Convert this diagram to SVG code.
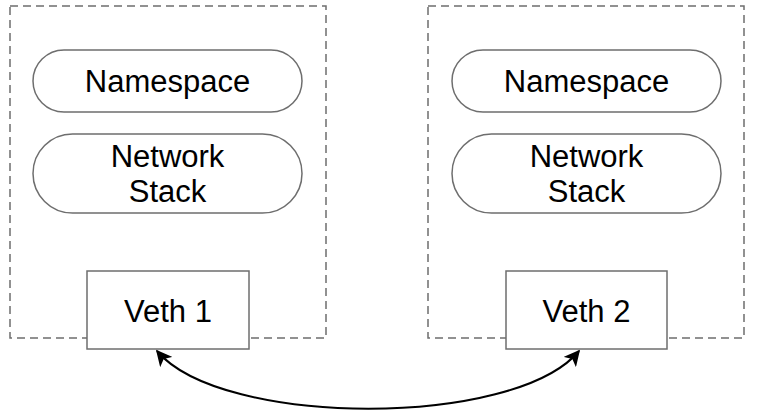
<svg xmlns="http://www.w3.org/2000/svg" width="757" height="418" viewBox="0 0 757 418">
<style>
.ns{fill:none;stroke:#6e6e6e;stroke-width:1.5;stroke-dasharray:8 5}
.pill{fill:#fff;stroke:#6e6e6e;stroke-width:1.5}
.veth{fill:#fff;stroke:#6e6e6e;stroke-width:1.5}
text{font-family:"Liberation Sans",Arial,Helvetica,sans-serif;font-size:31px;fill:#000;text-anchor:middle}
.conn{fill:none;stroke:#000;stroke-width:2}
</style>
<defs>
<marker id="ah" viewBox="0 0 10 10" refX="9" refY="5" markerWidth="16" markerHeight="16" markerUnits="userSpaceOnUse" orient="auto-start-reverse">
<path d="M0,0 L10,5 L0,10 L2.5,5 z" fill="#000"/>
</marker>
</defs>
<g id="ns1">
<rect class="ns" x="10" y="6" width="316" height="332"/>
</g>
<g id="namespace1">
<rect class="pill" x="33" y="50" width="269" height="62" rx="31"/>
<text x="167.5" y="92">Namespace</text>
</g>
<g id="stack1">
<rect class="pill" x="33" y="134" width="269" height="79" rx="39.5"/>
<text x="167.5" y="167">Network</text>
<text x="167.5" y="202">Stack</text>
</g>
<g id="veth1">
<rect class="veth" x="87" y="271" width="162" height="78"/>
<text x="168" y="322">Veth 1</text>
</g>
<g id="ns2">
<rect class="ns" x="428" y="6" width="316" height="332"/>
</g>
<g id="namespace2">
<rect class="pill" x="452" y="50" width="269" height="62" rx="31"/>
<text x="586.5" y="92">Namespace</text>
</g>
<g id="stack2">
<rect class="pill" x="452" y="134" width="269" height="79" rx="39.5"/>
<text x="586.5" y="167">Network</text>
<text x="586.5" y="202">Stack</text>
</g>
<g id="veth2">
<rect class="veth" x="506" y="271" width="161" height="78"/>
<text x="586.5" y="322">Veth 2</text>
</g>
<g id="connectors">
<path class="conn" d="M157,351 C222,428 515,428 579,351" marker-start="url(#ah)" marker-end="url(#ah)"/>
</g>
</svg>
